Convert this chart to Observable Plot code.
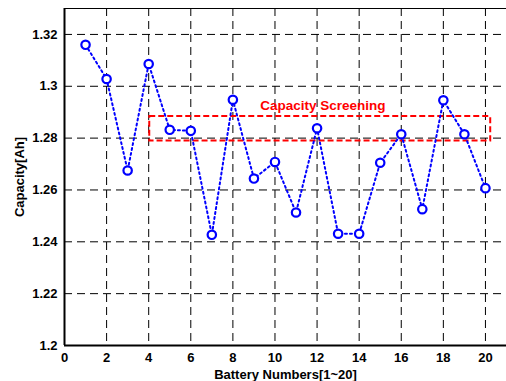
<!DOCTYPE html>
<html><head><meta charset="utf-8">
<script src="https://cdn.jsdelivr.net/npm/d3@7"></script>
<script src="https://cdn.jsdelivr.net/npm/@observablehq/plot@0.6"></script>
<style>
html,body{margin:0;padding:0;background:#fff;}
#chart svg{display:block;}
</style>
</head><body><div id="chart"></div>
<script>
const batteries = [1,2,3,4,5,6,7,8,9,10,11,12,13,14,15,16,17,18,19,20];
const capacity = [1.316,1.3028,1.2675,1.3086,1.2832,1.2828,1.2427,1.2948,1.2644,1.2708,1.2513,1.2838,1.2431,1.2431,1.2705,1.2815,1.2526,1.2946,1.2815,1.2607];
const xTicks = [0,2,4,6,8,10,12,14,16,18,20];
const yTicks = [1.2,1.22,1.24,1.26,1.28,1.3,1.32];
const yTickLabels = ["1.2","1.22","1.24","1.26","1.28","1.3","1.32"];
const screenBox = [{x1:4.05, x2:20.25, y1:1.2789, y2:1.2883}];
const screenLabel = [{x:9.3, y:1.2925, text:"Capacity Screening"}];

const data = batteries.map((b,i)=>({b, c:capacity[i]}));

const chart = Plot.plot({
  width: 506, height: 381,
  marginLeft: 64, marginRight: 0, marginTop: 8, marginBottom: 36,
  style: {fontFamily: "'Liberation Sans', Arial, sans-serif", fontWeight: "bold", fontSize: "13px", background: "#fff", color: "#000"},
  x: {domain: [0, 21]},
  y: {domain: [1.2, 1.33]},
  marks: [
    Plot.ruleX(xTicks.filter(d=>d>0), {stroke: "#000", strokeWidth: 1, strokeDasharray: "8,5"}),
    Plot.ruleY(yTicks.filter(d=>d>1.2), {stroke: "#000", strokeWidth: 1, strokeDasharray: "8,5"}),
    Plot.rect(screenBox, {x1:"x1", x2:"x2", y1:"y1", y2:"y2", fill:"none", stroke:"#ff0000", strokeWidth:2, strokeDasharray:"6,3"}),
    Plot.text(screenLabel, {x:"x", y:"y", text:"text", fill:"#ff0000", textAnchor:"start", fontSize:13.5, fontWeight:"bold"}),
    Plot.line(data, {x:"b", y:"c", stroke:"#0000ff", strokeWidth:2, strokeDasharray:"2,3"}),
    Plot.dot(data, {x:"b", y:"c", r:4.2, stroke:"#0000ff", strokeWidth:2.2, fill:"#fff"}),
    Plot.axisX({ticks: xTicks, tickSize: 0, tickPadding: 7, label: "Battery Numbers[1~20]", labelAnchor: "center", labelArrow: "none", labelOffset: 33, fontSize: 13}),
    Plot.axisY({ticks: yTicks, tickFormat: (d,i)=>yTickLabels[i], tickSize: 0, tickPadding: 7, label: "Capacity[Ah]", labelAnchor: "center", labelArrow: "none", labelOffset: 50, fontSize: 13}),
    Plot.ruleX([0], {stroke:"#000", strokeWidth:2}),
    Plot.ruleY([1.2], {stroke:"#000", strokeWidth:2}),
    Plot.ruleY([1.33], {stroke:"#000", strokeWidth:1}),
    Plot.ruleX([21], {stroke:"#000", strokeWidth:1})
  ]
});
document.getElementById("chart").appendChild(chart);
</script>
</body></html>
